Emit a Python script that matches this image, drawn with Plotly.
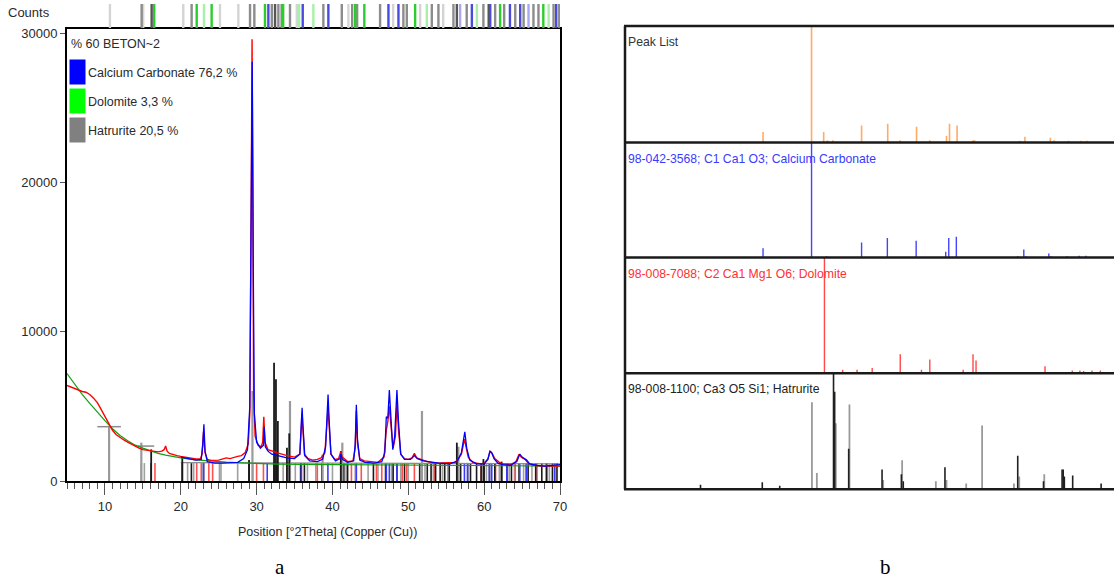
import plotly.graph_objects as go

W, H = 1114, 586
def px(x): return x / W
def py(y): return 1 - y / H

FONT = "Liberation Sans, Arial, sans-serif"

# ---------------- data ----------------
# observed pattern (red)
obs_x = [5.0, 5.5, 6.0, 6.5, 7.0, 7.5, 8.0, 8.5, 9.0, 9.5, 10.0, 10.5, 11.0, 11.5, 12.0, 12.5, 13.0, 13.5,
         14.0, 14.5, 15.0, 15.5, 16.0, 16.5, 17.0, 17.5, 17.8, 18.0, 18.2, 18.5, 19.0, 19.5, 20.0, 21.0, 22.0,
         22.6, 22.8, 23.0, 23.2, 23.5, 24.0, 25.0, 26.0, 26.5, 27.0, 27.5, 28.0, 28.5, 28.9, 29.1, 29.3, 29.4,
         29.5, 29.6, 29.8, 30.2, 30.6, 30.8, 30.95, 31.1, 31.5, 32.0, 33.0, 34.0, 35.0, 35.7, 35.9, 36.0, 36.1,
         36.3, 36.8, 37.4, 38.0, 38.5, 39.0, 39.3, 39.42, 39.55, 39.8, 40.3, 40.8, 41.1, 41.3, 42.0, 42.7, 43.0,
         43.15, 43.3, 43.6, 44.2, 45.0, 46.0, 46.8, 47.1, 47.3, 47.5, 47.7, 48.0, 48.3, 48.5, 48.7, 49.0, 49.5,
         50.0, 50.5, 50.8, 51.1, 51.8, 52.5, 53.5, 54.5, 55.5, 56.2, 56.6, 57.0, 57.4, 57.6, 57.9, 58.5, 59.5,
         60.0, 60.5, 60.8, 61.1, 61.4, 62.0, 62.5, 63.5, 64.2, 64.6, 64.9, 65.4, 65.8, 66.5, 67.5, 68.5, 69.5, 70.0]
obs_y = [6400, 6300, 6200, 6050, 6000, 5950, 5800, 5550, 5250, 4800, 4300, 3800, 3400, 3100, 2900, 2750, 2600, 2450,
         2300, 2200, 2100, 2050, 2000, 1950, 1950, 2000, 2100, 2350, 2000, 1850, 1750, 1700, 1650, 1550, 1480,
         1500, 1800, 3300, 1900, 1450, 1380, 1400, 1550, 1500, 1600, 1650, 1700, 1900, 2500, 4500, 20000, 29600,
         20000, 6000, 3000, 2400, 2300, 2600, 4300, 2600, 2100, 2000, 1850, 1700, 1600, 1800, 3500, 4500, 3500,
         1800, 1500, 1400, 1450, 1550, 1900, 3800, 4900, 3800, 1800, 1450, 1500, 1950, 1600, 1300, 1350, 2200,
         4700, 2500, 1500, 1350, 1300, 1250, 1600, 3400, 4000, 5000, 3800, 2200, 3000, 5200, 3500, 1800, 1500,
         1450, 1550, 1850, 1550, 1400, 1300, 1200, 1200, 1200, 1250, 1500, 1800, 2800, 2400, 1600, 1250, 1150,
         1200, 1500, 2000, 1800, 1500, 1250, 1150, 1100, 1300, 1800, 1600, 1450, 1200, 1050, 1000, 1000, 1000, 1000]

# calculated pattern (blue)
calc_x = [20.0, 21.0, 22.0, 22.7, 22.9, 23.05, 23.2, 23.5, 24.5, 25.5, 26.5, 27.5, 28.3, 28.8, 29.1, 29.3, 29.42,
          29.55, 29.7, 30.0, 30.5, 30.9, 31.0, 31.15, 31.5, 32.0, 33.0, 34.0, 35.0, 35.7, 35.9, 36.0, 36.1, 36.35,
          37.0, 38.0, 38.7, 39.1, 39.3, 39.42, 39.55, 39.8, 40.4, 41.0, 41.1, 41.3, 42.0, 42.8, 43.0, 43.15, 43.3,
          43.6, 44.3, 45.5, 46.5, 46.9, 47.1, 47.3, 47.5, 47.7, 47.95, 48.2, 48.5, 48.7, 49.0, 49.5, 50.3, 50.8,
          51.2, 52.0, 53.0, 54.0, 55.5, 56.5, 57.0, 57.2, 57.45, 57.7, 58.1, 59.0, 60.0, 60.5, 60.75, 61.0, 61.3,
          61.8, 62.5, 63.5, 64.3, 64.7, 65.0, 65.6, 66.0, 67.0, 68.0, 69.0, 69.5, 70.0]
calc_y = [1600, 1480, 1400, 1450, 2400, 3800, 2000, 1300, 1200, 1200, 1200, 1250, 1500, 2100, 5000, 22000, 28100,
          15000, 4500, 2600, 2200, 2400, 3600, 2300, 2000, 1800, 1650, 1550, 1500, 1800, 4000, 4900, 3800, 1700,
          1350, 1300, 1450, 2300, 4500, 5800, 4200, 1800, 1350, 1500, 1800, 1450, 1250, 1350, 2500, 5100, 2800,
          1400, 1250, 1200, 1300, 1900, 4300, 4200, 6100, 4200, 2100, 3000, 6100, 4000, 1800, 1450, 1450, 1700,
          1500, 1350, 1250, 1200, 1150, 1350, 1900, 2500, 3300, 2200, 1400, 1150, 1150, 1450, 2000, 1900, 1500,
          1200, 1100, 1050, 1300, 1800, 1600, 1400, 1150, 1050, 1000, 1050, 1100, 1100]

# background (green)
bg_x = [5, 6, 7, 8, 9, 10, 11, 12, 13, 14, 15, 16, 17, 18, 19, 20, 22, 24, 26, 28, 30, 33, 36, 40, 45, 50, 55, 60, 65, 70]
bg_y = [7200, 6500, 5800, 5200, 4600, 4050, 3500, 3050, 2700, 2400, 2200, 2000, 1850, 1730, 1630, 1550, 1420, 1330,
        1260, 1210, 1170, 1130, 1110, 1100, 1080, 1060, 1050, 1040, 1020, 1000]

# short reference markers at the bottom of the pattern
marker_top = 1200
mk_black = [16.1, 20.2, 21.4, 23.0, 29.0, 32.3, 32.6, 35.8, 36.3, 38.6, 41.1, 41.5, 42.0, 45.4, 47.0, 48.0, 48.5,
            49.5, 51.5, 52.5, 53.0, 53.6, 54.2, 54.8, 55.4, 56.6, 56.9, 58.2, 59.0, 59.6, 60.0, 60.7, 61.4, 62.3,
            63.0, 63.6, 64.6, 65.8, 66.8, 67.6, 68.2, 69.0, 69.6]
mk_gray = [14.8, 15.2, 20.9, 21.7, 25.1, 25.3, 27.5, 29.5, 32.8, 33.5, 35.1, 36.7, 37.8, 40.0, 41.8, 43.0, 44.7,
           46.0, 47.8, 49.0, 50.0, 52.2, 53.3, 54.5, 55.2, 57.9, 60.3, 62.0, 63.3, 64.0, 65.2, 66.3, 67.0, 68.6, 69.3]
mk_red = [16.6, 22.1, 22.7, 23.7, 24.2, 30.0, 30.9, 34.0, 35.9, 38.0, 41.1, 42.5, 43.8, 45.8, 46.5, 49.2, 49.8,
          50.8, 53.5, 59.6, 61.5, 64.1, 65.5, 66.8, 68.3]
mk_blue = [23.0, 31.4, 35.9, 39.4, 43.15, 47.1, 47.5, 48.5, 57.4, 57.8, 60.7, 61.0, 63.0, 64.7, 65.6, 69.3]
hat_base_x = [20, 70]
hat_base_y = [1230, 1150]

# tall Hatrurite sticks in the pattern
tall_gray_pos = [10.55, 14.8, 29.45, 34.4, 38.7, 41.3, 51.8, 56.6]
tall_gray_h = [3640, 2570, 6030, 5360, 1780, 2570, 4690, 2300]
tall_black_pos = [16.1, 20.2, 29.0, 32.3, 32.55, 32.8, 34.3, 34.0, 41.1, 56.4, 59.9, 62.3]
tall_black_h = [2120, 1560, 1400, 7920, 6810, 4020, 3190, 2230, 2000, 2570, 1470, 1300]
cross_pos = [10.55, 15.4]
cross_half = [1.55, 1.1]
cross_h = [3640, 2340]

# top strip of phase reflection positions
strip = {
    "#d4d4d4": [10.66, 15.05, 20.33, 25.17, 27.59, 35.3, 42.1, 48.0, 51.56, 54.6],
    "#8c8c8c": [14.84, 21.43, 29.13, 29.7, 32.0, 32.87, 33.3, 34.4, 38.8, 41.23, 42.6, 43.25, 46.28, 49.35,
                49.8, 53.1, 53.97, 55.95, 57.7, 59.9, 61.45, 62.64, 64.1, 65.2, 66.5, 67.16, 69.15, 69.9],
    "#555555": [16.16, 32.43, 56.4, 60.6],
    "#2ccc2c": [16.5, 22.1, 24.07, 31.1, 33.5, 43.0, 44.2, 50.9, 62.1, 67.8],
    "#a8f0a8": [23.06, 35.6, 37.48, 52.44, 59.04, 68.5],
    "#4a4ae0": [31.55, 36.08, 39.46, 47.38, 48.7, 58.38, 60.8, 63.4, 64.75, 69.5],
    "#a8a8f0": [56.83, 65.85],
}

# right panel: reference patterns (relative intensity, %)
peak_pos = [23.0, 29.4, 31.0, 31.5, 32.2, 36.0, 39.45, 41.1, 43.25, 45.0, 47.2, 47.6, 48.6, 50.7, 50.9,
            56.85, 57.55, 60.9, 61.4, 63.3, 64.9, 65.7]
peak_int = [9, 100, 9, 2, 2, 14.5, 16, 2, 13.5, 2, 5.5, 16, 14.5, 2, 2, 1.5, 5, 4, 2, 1.5, 1.5, 1.5]
calcite_pos = [23.0, 29.4, 31.4, 36.0, 39.4, 43.2, 47.1, 47.5, 48.5, 56.6, 57.4, 57.7, 60.7, 61.0, 63.1, 64.7, 65.6]
calcite_int = [8, 100, 1, 13, 17, 14.5, 5, 17, 18, 1, 7, 1, 3.5, 1, 1, 1.5, 1.5]
dolomite_pos = [16.4, 22.0, 24.0, 31.1, 33.5, 35.4, 37.4, 41.1, 43.9, 45.0, 49.4, 50.7, 51.1, 52.6, 59.0, 60.2,
                62.0, 63.8, 64.8, 65.3, 66.4, 67.5]
dolomite_int = [0.8, 0.8, 0.8, 100, 3, 3, 4.5, 16.5, 3, 12, 3, 16.5, 11, 0.8, 1, 6, 0.8, 2.5, 2.5, 2, 2.5, 2.5]
hat_dark_pos = [14.75, 16.0, 22.9, 25.2, 32.3, 32.45, 34.3, 38.7, 41.25, 41.5, 47.0, 56.6, 60.0, 62.45, 62.6,
                62.75, 63.85, 67.6, 68.0]
hat_dark_int = [4, 1, 6, 3, 100, 84, 35, 17, 13, 7, 19, 29, 7, 17, 17, 11, 12, 5, 1]
hat_light_pos = [29.45, 30.1, 32.6, 34.4, 38.85, 41.35, 45.8, 47.2, 49.8, 51.9, 56.1, 56.8, 60.1]
hat_light_int = [75, 14, 57, 73, 8, 25, 7, 8, 5, 55, 5, 11, 13]

legend_names = ["Calcium Carbonate 76,2 %", "Dolomite 3,3 %", "Hatrurite 20,5 %"]
legend_colors = ["#0000ff", "#00ff00", "#808080"]
panel_titles = ["Peak List", "98-042-3568; C1 Ca1 O3; Calcium Carbonate",
                "98-008-7088; C2 Ca1 Mg1 O6; Dolomite", "98-008-1100; Ca3 O5 Si1; Hatrurite"]
panel_title_colors = ["#333333", "#3a3aff", "#ff3030", "#222222"]

# ---------------- helpers ----------------
def sticks(pos, hts, base=0):
    xs, ys = [], []
    for p, h in zip(pos, hts):
        xs += [p, p, None]
        ys += [base, h, None]
    return xs, ys

def hbars(pos, half, hts):
    xs, ys = [], []
    for p, w, h in zip(pos, half, hts):
        xs += [p - w, p + w, None]
        ys += [h, h, None]
    return xs, ys

fig = go.Figure()

def line(xs, ys, color, width, xa="x", ya="y", opacity=1.0):
    fig.add_trace(go.Scatter(x=xs, y=ys, mode="lines", xaxis=xa, yaxis=ya, opacity=opacity,
                             line=dict(color=color, width=width), hoverinfo="skip", showlegend=False))

# main pattern: markers
for pos, col in [(mk_gray, "#a0a0a0"), (mk_red, "#ff5050"), (mk_black, "#1a1a1a"), (mk_blue, "#3a3aff")]:
    xs, ys = sticks(pos, [marker_top] * len(pos))
    line(xs, ys, col, 1.6)
line(hat_base_x, hat_base_y, "#8a8a8a", 1.2)
xs, ys = sticks(tall_gray_pos, tall_gray_h)
line(xs, ys, "#9a9a9a", 2.2)
xs, ys = sticks(tall_black_pos, tall_black_h)
line(xs, ys, "#1a1a1a", 1.8)
xs, ys = hbars(cross_pos, cross_half, cross_h)
line(xs, ys, "#8a8a8a", 1.5)

line(bg_x, bg_y, "#10a010", 1.2)
line(obs_x, obs_y, "#ff0000", 1.4)
line(calc_x, calc_y, "#0000ff", 1.3)

# top strip
for col, pos in strip.items():
    xs, ys = sticks(pos, [1] * len(pos))
    line(xs, ys, col, 2.4, xa="x2", ya="y2")

# right panels
xs, ys = sticks(peak_pos, peak_int)
line(xs, ys, "#ffab66", 1.6, xa="x3", ya="y3")
xs, ys = sticks(calcite_pos, calcite_int)
line(xs, ys, "#4444ff", 1.4, xa="x3", ya="y4")
xs, ys = sticks(dolomite_pos, dolomite_int)
line(xs, ys, "#ff4848", 1.4, xa="x3", ya="y5")
xs, ys = sticks(hat_light_pos, hat_light_int)
line(xs, ys, "#9a9a9a", 1.8, xa="x3", ya="y6")
xs, ys = sticks(hat_dark_pos, hat_dark_int)
line(xs, ys, "#202020", 1.6, xa="x3", ya="y6")

# ---------------- layout ----------------
L0, L1 = 67.0, 560.0
T_main, B_main = 29.0, 481.0
ymax = 30000 + (33.3 - T_main) / (448.0 / 30000)

tickfont = dict(family=FONT, size=13, color="#2a2a2a")
hidden = dict(visible=False, showgrid=False, zeroline=False, fixedrange=True, automargin=False)

# right panel geometry
RX0 = 626.6
rborders = [26.0, 142.5, 257.5, 373.3, 489.3]
rx_max = 5 + (W - RX0) / 7.58

layout = dict(
    width=W, height=H, margin=dict(l=0, r=0, t=0, b=0, pad=0, autoexpand=False),
    paper_bgcolor="white", plot_bgcolor="white", showlegend=False,
    xaxis=dict(domain=[px(L0), px(L1)], range=[5, 70], anchor="y", automargin=False,
               showline=True, linecolor="black", linewidth=2, mirror=True,
               ticks="outside", ticklen=12, tickwidth=1.3, tickcolor="#555555",
               tickvals=[10, 20, 30, 40, 50, 60, 70], tickfont=tickfont,
               minor=dict(dtick=1, tick0=5, ticks="outside", ticklen=6, tickwidth=1.2, tickcolor="#555555"),
               showgrid=False, zeroline=False),
    yaxis=dict(domain=[py(B_main), py(T_main)], range=[0, ymax], anchor="x", automargin=False,
               showline=True, linecolor="black", linewidth=2, mirror=True,
               ticks="outside", ticklen=5, tickwidth=1.3, tickcolor="#555555",
               tickvals=[0, 10000, 20000, 30000], ticktext=["0", "10000", "20000", "30000"],
               tickfont=tickfont, showgrid=False, zeroline=False),
    xaxis2=dict(domain=[px(L0), px(L1)], range=[5, 70], anchor="y2", **hidden),
    yaxis2=dict(domain=[py(28.0), py(4.0)], range=[0, 1], anchor="x2", **hidden),
    xaxis3=dict(domain=[px(RX0), 1.0], range=[5, rx_max], anchor="y6", **hidden),
)
for i, name in enumerate(["yaxis3", "yaxis4", "yaxis5", "yaxis6"]):
    layout[name] = dict(domain=[py(rborders[i + 1]), py(rborders[i])], range=[0, 100], anchor="x3", **hidden)

fig.update_layout(**layout)

shapes = []
# right panel frame
for yb in rborders:
    shapes.append(dict(type="line", xref="paper", yref="paper", x0=px(624), x1=1.0, y0=py(yb), y1=py(yb),
                       line=dict(color="#1a1a1a", width=2.5)))
shapes.append(dict(type="line", xref="paper", yref="paper", x0=px(625), x1=px(625), y0=py(rborders[0]),
                   y1=py(rborders[-1]), line=dict(color="#1a1a1a", width=2.5)))
# legend swatches
for i, col in enumerate(legend_colors):
    y0 = 59.5 + i * 29.0
    shapes.append(dict(type="rect", xref="paper", yref="paper", x0=px(69.5), x1=px(85.5), y0=py(y0 + 25),
                       y1=py(y0), fillcolor=col, line=dict(width=0)))
fig.update_layout(shapes=shapes)

ann = []
def text(x, y, s, size=12.5, color="#2a2a2a", xanchor="left", family=FONT):
    ann.append(dict(x=px(x), y=py(y), xref="paper", yref="paper", text=s, showarrow=False,
                    xanchor=xanchor, yanchor="middle", font=dict(family=family, size=size, color=color)))

text(6, 13, "Counts", size=13)
text(69, 44, "% 60 BETON~2")
for i, nm in enumerate(legend_names):
    text(86, 73 + i * 29.0, nm)
text(327, 532, "Position [°2Theta] (Copper (Cu))", xanchor="center")
for i, t in enumerate(panel_titles):
    text(626, rborders[i] + 16, t, size=12.2, color=panel_title_colors[i])
text(280, 567, "a", size=21, color="black", xanchor="center", family="Liberation Serif, Times New Roman, serif")
text(885, 567, "b", size=21, color="black", xanchor="center", family="Liberation Serif, Times New Roman, serif")
fig.update_layout(annotations=ann)

fig.write_html("out.html", config={"displayModeBar": False},
               post_script="document.body.style.margin='0px';document.body.style.padding='0px';"
                           "document.body.style.overflow='hidden';")
